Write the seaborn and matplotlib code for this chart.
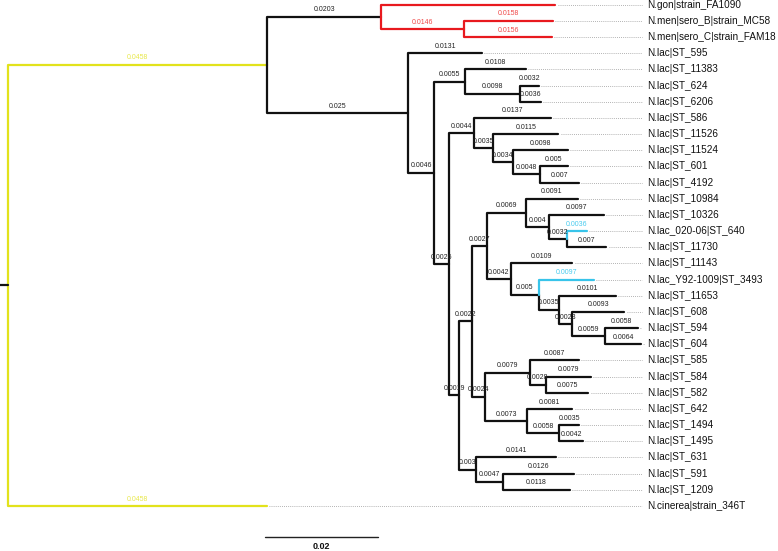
import pandas as pd
import matplotlib
matplotlib.use("Agg")
import matplotlib.pyplot as plt
import seaborn as sns

# tree edges: child, parent, branch length (children listed top to bottom)
child = ["A", "N.cinerea|strain_346T",
         "Neis", "Lac",
         "N.gon|strain_FA1090", "MenBC",
         "N.men|sero_B|strain_MC58", "N.men|sero_C|strain_FAM18",
         "N.lac|ST_595", "B",
         "C", "D",
         "N.lac|ST_11383", "C2",
         "N.lac|ST_624", "N.lac|ST_6206",
         "E", "F",
         "N.lac|ST_586", "E2",
         "N.lac|ST_11526", "E3",
         "N.lac|ST_11524", "E4",
         "N.lac|ST_601", "N.lac|ST_4192",
         "G", "H",
         "I", "J",
         "K", "L",
         "N.lac|ST_10984", "M",
         "N.lac|ST_10326", "N",
         "N.lac_020-06|ST_640", "N.lac|ST_11730",
         "N.lac|ST_11143", "O",
         "N.lac_Y92-1009|ST_3493", "P",
         "N.lac|ST_11653", "Q",
         "N.lac|ST_608", "R",
         "N.lac|ST_594", "N.lac|ST_604",
         "S", "T",
         "N.lac|ST_585", "S2",
         "N.lac|ST_584", "N.lac|ST_582",
         "N.lac|ST_642", "T2",
         "N.lac|ST_1494", "N.lac|ST_1495",
         "N.lac|ST_631", "H2",
         "N.lac|ST_591", "N.lac|ST_1209"]
parent = ["root", "root",
          "A", "A",
          "Neis", "Neis",
          "MenBC", "MenBC",
          "Lac", "Lac",
          "B", "B",
          "C", "C",
          "C2", "C2",
          "D", "D",
          "E", "E",
          "E2", "E2",
          "E3", "E3",
          "E4", "E4",
          "F", "F",
          "G", "G",
          "I", "I",
          "K", "K",
          "M", "M",
          "N", "N",
          "L", "L",
          "O", "O",
          "P", "P",
          "Q", "Q",
          "R", "R",
          "J", "J",
          "S", "S",
          "S2", "S2",
          "T", "T",
          "T2", "T2",
          "H", "H",
          "H2", "H2"]
length = [0.0458, 0.0458,
          0.0203, 0.025,
          0.0308, 0.0146,
          0.0158, 0.0156,
          0.0131, 0.0046,
          0.0055, 0.0026,
          0.0108, 0.0098,
          0.0032, 0.0036,
          0.0044, 0.0019,
          0.0137, 0.0035,
          0.0115, 0.0034,
          0.0098, 0.0048,
          0.005, 0.007,
          0.0022, 0.003,
          0.0027, 0.0024,
          0.0069, 0.0042,
          0.0091, 0.004,
          0.0097, 0.0032,
          0.0036, 0.007,
          0.0109, 0.005,
          0.0097, 0.0035,
          0.0101, 0.0023,
          0.0093, 0.0059,
          0.0058, 0.0064,
          0.0079, 0.0073,
          0.0087, 0.0028,
          0.0079, 0.0075,
          0.0081, 0.0058,
          0.0035, 0.0042,
          0.0141, 0.0047,
          0.0126, 0.0118]

red_branches = ["N.gon|strain_FA1090", "MenBC", "N.men|sero_B|strain_MC58", "N.men|sero_C|strain_FAM18"]
yellow_branches = ["A", "N.cinerea|strain_346T"]
cyan_branches = ["N.lac_020-06|ST_640", "N.lac_Y92-1009|ST_3493"]
scale_value = 0.02

line_col = {"k": "#111111", "r": "#e8191e", "y": "#e2e21c", "c": "#38c4ea"}
text_col = {"k": "#222222", "r": "#f04848", "y": "#e8e84a", "c": "#48cbef"}

# --- layout ---
kids = {}
blen = {}
for c, p, l in zip(child, parent, length):
    kids.setdefault(p, []).append(c)
    blen[c] = l

xpos, ypos, leaves = {}, {}, []

def place(node, x):
    xpos[node] = x
    if node not in kids:
        ypos[node] = len(leaves)
        leaves.append(node)
        return
    for k in kids[node]:
        place(k, x + blen[k])
    ypos[node] = (ypos[kids[node][0]] + ypos[kids[node][-1]]) / 2

place("root", 0.0)

def colour(n):
    if n in red_branches:
        return "r"
    if n in yellow_branches:
        return "y"
    if n in cyan_branches:
        return "c"
    return "k"

rows = []
for i, c in enumerate(child):
    p = parent[i]
    col = colour(c)
    for x, y in [(xpos[p], ypos[p]), (xpos[p], ypos[c]), (xpos[c], ypos[c])]:
        rows.append({"seg": i, "x": x, "y": y, "col": col})
rows.append({"seg": -1, "x": -0.0015, "y": ypos["root"], "col": "k"})
rows.append({"seg": -1, "x": 0.0, "y": ypos["root"], "col": "k"})
edges = pd.DataFrame(rows)

sns.set_style("white")
plt.rcParams["font.family"] = ["Liberation Sans", "DejaVu Sans"]

fig = plt.figure(figsize=(7.78, 5.51), dpi=100)
ax = fig.add_axes([0, 0, 1, 1])

tip_max = max(xpos[l] for l in leaves)
for l in leaves:
    ax.plot([xpos[l] + 0.0004, tip_max + 0.0002], [ypos[l], ypos[l]],
            linestyle=(0, (1, 1.5)), color="#9a9a9a", linewidth=0.6, zorder=1)
    ax.text(tip_max + 0.0010, ypos[l], l, fontsize=7.2, va="center", ha="left", color="#111111")

sns.lineplot(data=edges, x="x", y="y", units="seg", estimator=None, hue="col",
             palette=line_col, sort=False, legend=False, linewidth=1.6, ax=ax, zorder=2)

for c in child:
    col = colour(c)
    mid = xpos[c] - blen[c] / 2
    ax.annotate(f"{blen[c]:g}", (mid, ypos[c]), xytext=(0, 5), textcoords="offset points",
                ha="center", va="center", fontsize=5, color=text_col[col], zorder=3)

# scale bar
sb_y = 32.92
ax.plot([0.0455, 0.0455 + scale_value], [sb_y, sb_y], color="#222222", linewidth=1.0)
ax.text(0.0455 + scale_value / 2, sb_y + 0.6, f"{scale_value:g}", ha="center", va="center",
        fontsize=6.5, fontweight="bold", color="#111111")

ax.set_xlim(-8 / 5650, 770 / 5650)
ax.set_ylim((551 - 4.7) / 16.17, -4.7 / 16.17)
ax.axis("off")

fig.savefig("out.png", dpi=100)
